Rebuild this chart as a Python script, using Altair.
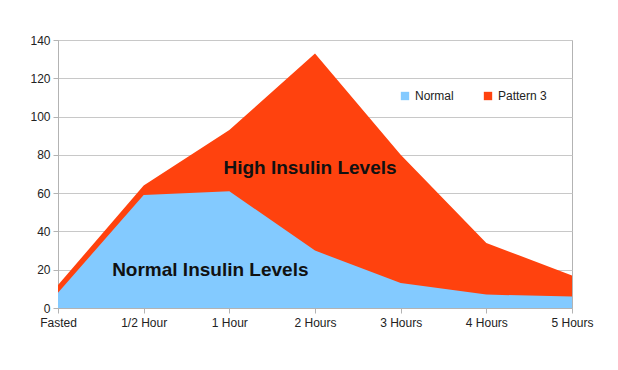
import altair as alt
import pandas as pd

categories = ["Fasted", "1/2 Hour", "1 Hour", "2 Hours", "3 Hours", "4 Hours", "5 Hours"]
normal = [8, 59, 61, 30, 13, 7, 6]
pattern3 = [12, 64, 93, 133, 80, 34, 17]
series_names = ["Normal", "Pattern 3"]
colors = ["#83CAFF", "#FF420E"]
y_ticks = [0, 20, 40, 60, 80, 100, 120, 140]

rows = []
for c, n, p in zip(categories, normal, pattern3):
    rows.append({"time": c, "value": p, "series": "Pattern 3", "order": 0})
    rows.append({"time": c, "value": n, "series": "Normal", "order": 1})
df = pd.DataFrame(rows)

labels_df = pd.DataFrame({
    "time": ["2 Hours", "1 Hour"],
    "value": [73, 20],
    "text": ["High Insulin Levels", "Normal Insulin Levels"],
    "dx": [-5, -19],
})

FONT = "Liberation Sans"

x_axis = alt.Axis(title=None, labelAngle=0, labelFontSize=12, labelColor="#222",
                  domainColor="#b3b3b3", tickColor="#b3b3b3", tickSize=5,
                  labelPadding=4, grid=False, labelFont=FONT, labelOverlap=False)
y_axis = alt.Axis(title=None, values=y_ticks, labelFontSize=12,
                  labelColor="#222", domainColor="#b3b3b3", tickColor="#b3b3b3",
                  gridColor="#c8c8c8", tickSize=5, labelPadding=3, labelFont=FONT,
                  labelOverlap=False)
x_scale = alt.Scale(type="point", padding=0)
y_scale = alt.Scale(domain=[0, 140], nice=False)

area = alt.Chart(df).mark_area(opacity=1, interpolate="linear").encode(
    x=alt.X("time:N", sort=categories, scale=x_scale, axis=x_axis),
    y=alt.Y("value:Q", stack=None, scale=y_scale, axis=y_axis),
    color=alt.Color("series:N", sort=series_names,
                    scale=alt.Scale(domain=series_names, range=colors),
                    legend=alt.Legend(title=None, orient="none", legendX=341, legendY=50,
                                      direction="horizontal", symbolType="square",
                                      symbolSize=70, labelFontSize=12, labelFont=FONT,
                                      labelColor="#222", columnPadding=28, symbolStrokeWidth=0)),
    order=alt.Order("order:Q"),
)

def txt(i):
    d = labels_df.iloc[[i]]
    return alt.Chart(d).mark_text(fontSize=19, fontWeight="bold", font=FONT, color="#111",
                                  dx=int(labels_df["dx"][i])).encode(
        x=alt.X("time:N", sort=categories, scale=x_scale, axis=x_axis),
        y=alt.Y("value:Q", scale=y_scale, axis=y_axis),
        text="text:N",
    )

chart = alt.layer(area, txt(0), txt(1)).properties(
    width=514, height=268,
    autosize=alt.AutoSizeParams(type="none"),
    padding={"left": 50, "top": 32, "right": 30, "bottom": 40},
    background="white",
).configure_view(stroke="#b3b3b3", strokeWidth=1)

chart.save("out.html", embed_options={"renderer": "svg", "actions": False})
